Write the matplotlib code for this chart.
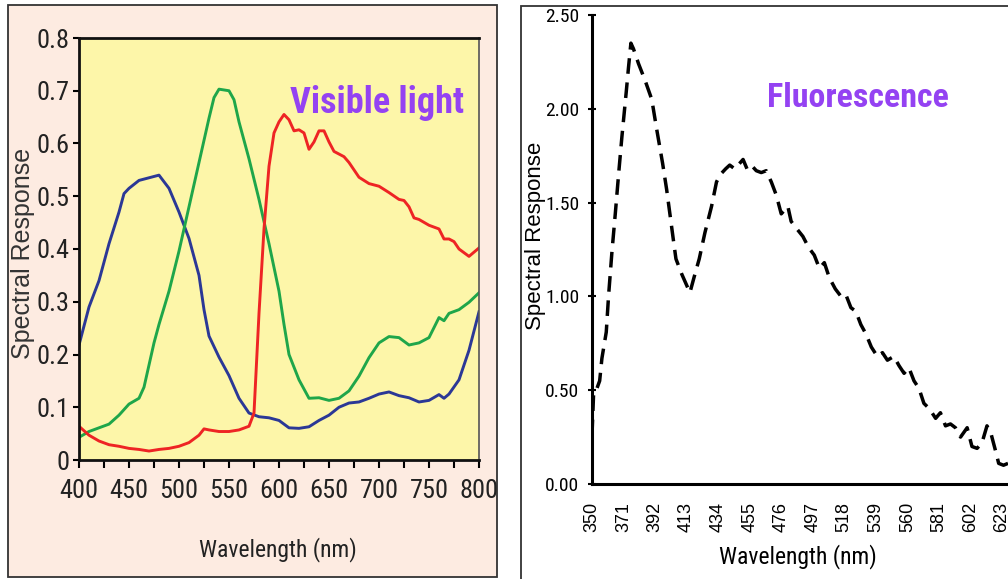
import numpy as np
import matplotlib
matplotlib.use('Agg')
from matplotlib import pyplot as plt
from matplotlib import font_manager
from matplotlib.patches import Rectangle

# left panel: visible light, three channel responses
wl_blue = [400, 410, 420, 430, 440, 445, 450, 460, 470, 480, 490, 500, 510, 520, 525,
           530, 540, 550, 560, 570, 580, 590, 600, 610, 620, 630, 640, 650, 660, 670,
           680, 690, 700, 710, 720, 730, 740, 750, 760, 765, 770, 780, 790, 800]
blue = [0.218, 0.29, 0.34, 0.41, 0.47, 0.505, 0.515, 0.53, 0.535, 0.54, 0.515, 0.47, 0.42, 0.35, 0.285,
        0.235, 0.195, 0.16, 0.117, 0.089, 0.082, 0.08, 0.075, 0.061, 0.06, 0.063, 0.075, 0.085, 0.1, 0.108,
        0.11, 0.117, 0.125, 0.129, 0.122, 0.118, 0.11, 0.113, 0.124, 0.117, 0.125, 0.152, 0.208, 0.281]

wl_green = [400, 410, 420, 430, 440, 450, 460, 465, 470, 475, 480, 490, 500, 510, 520, 530,
            535, 540, 550, 555, 560, 570, 580, 590, 600, 605, 610, 620, 630, 640, 650,
            660, 670, 680, 690, 700, 710, 720, 730, 740, 750, 760, 765, 770, 780, 790, 800]
green = [0.043, 0.054, 0.061, 0.068, 0.085, 0.106, 0.117, 0.138, 0.18, 0.222, 0.257, 0.32, 0.396, 0.48, 0.564, 0.648,
         0.687, 0.703, 0.7, 0.683, 0.641, 0.571, 0.494, 0.41, 0.32, 0.257, 0.2, 0.152, 0.117, 0.118, 0.113,
         0.117, 0.131, 0.159, 0.194, 0.222, 0.234, 0.232, 0.218, 0.222, 0.232, 0.27, 0.264, 0.278, 0.285, 0.299, 0.317]

wl_red = [400, 410, 420, 430, 440, 450, 460, 470, 480, 490, 500, 510, 520, 525, 530, 540, 550, 560,
          570, 575, 580, 585, 590, 595, 600, 605, 610, 615, 620, 625, 630, 635, 640, 645, 650, 655,
          665, 670, 680, 690, 700, 710, 720, 725, 730, 735, 740, 750, 760, 765, 770, 775, 780, 790, 800]
red = [0.064, 0.047, 0.036, 0.029, 0.026, 0.022, 0.02, 0.017, 0.02, 0.022, 0.026, 0.033, 0.047, 0.059, 0.057, 0.054, 0.054, 0.057,
       0.064, 0.089, 0.278, 0.438, 0.557, 0.62, 0.641, 0.655, 0.645, 0.624, 0.626, 0.62, 0.589, 0.603, 0.624, 0.624, 0.603, 0.585,
       0.575, 0.564, 0.536, 0.524, 0.519, 0.507, 0.494, 0.492, 0.48, 0.459, 0.456, 0.445, 0.438, 0.419, 0.419, 0.414, 0.4, 0.386, 0.402]

# right panel: fluorescence spectrum
wl_fluo = [350.0, 351.1, 353.3, 355.1, 356.6, 359.5, 361.0, 363.3, 365.5, 367.7, 369.9, 372.8, 374.3, 375.9,
           377.6, 381.0, 385.4, 389.8, 393.1, 397.0, 399.7, 404.2, 405.9, 409.7, 413.0, 415.2, 417.9, 421.4,
           425.2, 429.6, 432.9, 435.5, 439.0, 441.7, 445.0, 448.4, 450.6, 453.2, 456.0, 459.4, 462.7, 466.0,
           469.4, 472.7, 476.0, 478.2, 480.4, 482.6, 486.4, 490.4, 494.3, 498.0, 501.4, 504.7, 508.0, 512.0,
           515.8, 519.0, 522.4, 525.7, 529.0, 532.4, 536.0, 540.0, 543.4, 546.7, 551.0, 554.5, 557.8, 561.0,
           564.4, 567.7, 571.0, 574.8, 578.8, 582.0, 585.4, 588.7, 592.0, 595.4, 599.8, 603.0, 606.4, 609.7,
           613.0, 615.3, 618.6, 620.8, 624.0, 627.0]
fluo = [0.26, 0.49, 0.51, 0.55, 0.67, 0.81, 1.00, 1.24, 1.44, 1.65, 1.85, 2.09, 2.22, 2.35,
        2.32, 2.24, 2.15, 2.05, 1.89, 1.71, 1.57, 1.30, 1.20, 1.12, 1.06, 1.02, 1.10, 1.20,
        1.34, 1.48, 1.61, 1.65, 1.68, 1.70, 1.68, 1.71, 1.73, 1.68, 1.70, 1.67, 1.66, 1.67,
        1.61, 1.54, 1.44, 1.46, 1.48, 1.40, 1.36, 1.32, 1.26, 1.22, 1.15, 1.18, 1.10, 1.04,
        1.00, 1.01, 0.94, 0.92, 0.85, 0.80, 0.73, 0.68, 0.70, 0.66, 0.68, 0.63, 0.59, 0.62,
        0.55, 0.51, 0.43, 0.40, 0.35, 0.38, 0.31, 0.32, 0.30, 0.25, 0.30, 0.20, 0.19, 0.22,
        0.31, 0.28, 0.18, 0.11, 0.10, 0.11]
fluo_ticks = [350, 371, 392, 413, 434, 455, 476, 497, 518, 539, 560, 581, 602, 623]

W, H = 1008, 579
names = {f.name for f in font_manager.fontManager.ttflist}
NARROW = [n for n in ['Roboto Condensed', 'Archivo Narrow', 'Liberation Sans Narrow'] if n in names]
NARROW += ['Liberation Sans', 'DejaVu Sans']
REG = ['Liberation Sans', 'DejaVu Sans']
PURPLE = '#9442f2'

def box(x0, y0, x1, y1):
    # pixel box (top-left origin) -> figure fraction [l, b, w, h]
    return [x0 / W, 1 - y1 / H, (x1 - x0) / W, (y1 - y0) / H]

fig = plt.figure(figsize=(W / 100, H / 100), dpi=100, facecolor='white')

# panel frames, behind the axes
l, b, w, h = box(7.5, 5, 497, 577)
fig.add_artist(Rectangle((l, b), w, h, transform=fig.transFigure, zorder=-5,
                         facecolor='#fdebe1', edgecolor='#333333', lw=1.3))
l, b, w, h = box(521, 6, 1012, 584)
fig.add_artist(Rectangle((l, b), w, h, transform=fig.transFigure, zorder=-5,
                         facecolor='white', edgecolor='#333333', lw=1.3))

# ---- left panel ----
ax1 = fig.add_axes(box(79, 38, 479, 460))
ax1.set_facecolor('#fdf6a9')
ax1.plot(wl_blue, blue, color='#2b3896', lw=2.1)
ax1.plot(wl_green, green, color='#1fa64a', lw=2.1)
ax1.plot(wl_red, red, color='#ee2424', lw=2.1)
ax1.set_xlim(400, 800)
ax1.set_ylim(0, 0.8)
ax1.set_xticks(np.arange(400, 801, 50))
ax1.set_xticks(np.arange(425, 800, 50), minor=True)
ax1.set_yticks(np.arange(0, 0.81, 0.1))
ax1.set_yticklabels(['0'] + ['%.1f' % v for v in np.arange(0.1, 0.81, 0.1)])
ax1.tick_params(axis='x', which='both', direction='out', length=6, width=1.5, pad=8)
ax1.tick_params(axis='y', direction='out', length=4, width=1.5, pad=3)
for lab in ax1.get_xticklabels() + ax1.get_yticklabels():
    lab.set_family(NARROW)
    lab.set_fontsize(19)
    lab.set_color('#222222')
for s in ['left', 'bottom', 'top']:
    ax1.spines[s].set_linewidth(2.0)
    ax1.spines[s].set_color('#111111')
ax1.spines['right'].set_linewidth(1.2)
ax1.spines['right'].set_color('#555555')
fig.text(377 / W, 1 - 113 / H, 'Visible light', color=PURPLE, family=NARROW, fontsize=26,
         fontweight='bold', ha='center', va='baseline')
fig.text(23 / W, 1 - 253 / H, 'Spectral Response', family=REG, fontsize=18,
         rotation=90, ha='center', va='center', color='#333333')
fig.text(278 / W, 1 - 550 / H, 'Wavelength (nm)', family=NARROW, fontsize=17,
         ha='center', va='center', color='#222222')

# ---- right panel ----
ax2 = fig.add_axes(box(592, 15, 1008, 484))
ax2.set_facecolor('none')
ax2.plot(wl_fluo, fluo, color='black', lw=2.5, dashes=(4.5, 2.5))
ax2.set_xlim(350, 627)
ax2.set_ylim(0, 2.5)
ax2.set_xticks(fluo_ticks)
ax2.set_xticklabels([str(t) for t in fluo_ticks], rotation=90)
ax2.set_yticks(np.arange(0, 2.51, 0.5))
ax2.set_yticklabels(['%.2f' % v for v in np.arange(0, 2.51, 0.5)])
ax2.tick_params(axis='x', length=0, pad=13)
ax2.tick_params(axis='y', direction='inout', length=6, width=1.5, pad=6)
for lab in ax2.get_yticklabels():
    lab.set_family(NARROW)
    lab.set_fontsize(14)
for lab in ax2.get_xticklabels():
    lab.set_family(REG)
    lab.set_fontsize(13)
for s in ['top', 'right']:
    ax2.spines[s].set_visible(False)
for s in ['left', 'bottom']:
    ax2.spines[s].set_linewidth(2.2)
fig.text(858 / W, 1 - 107 / H, 'Fluorescence', color=PURPLE, family=NARROW, fontsize=24.5,
         fontweight='bold', ha='center', va='baseline')
fig.text(535 / W, 1 - 236 / H, 'Spectral Response', family=REG, fontsize=16,
         rotation=90, ha='center', va='center')
fig.text(798 / W, 1 - 557 / H, 'Wavelength (nm)', family=NARROW, fontsize=17,
         ha='center', va='center')

fig.savefig('out.png', dpi=100)
